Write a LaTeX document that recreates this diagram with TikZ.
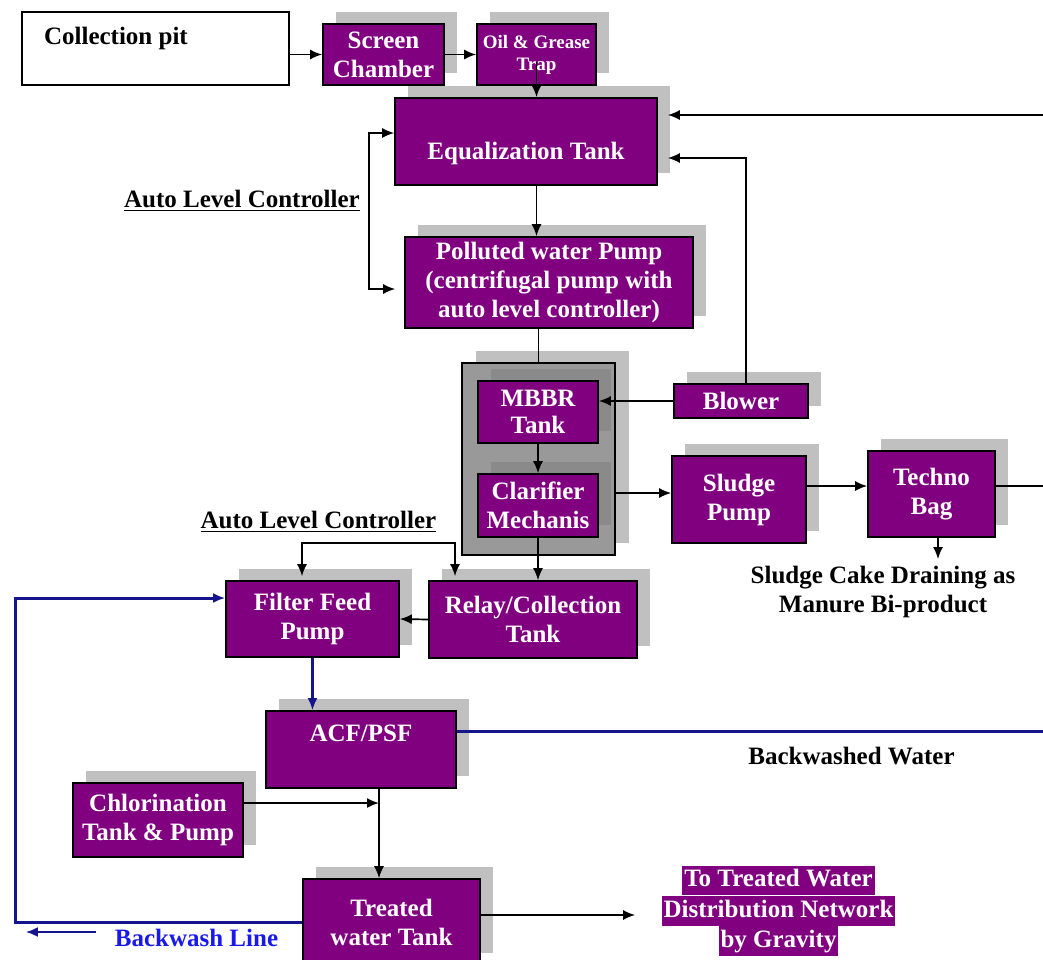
\documentclass[tikz,border=0pt]{standalone}
\usepackage{fontspec}
\setmainfont{Liberation Serif}
\usetikzlibrary{arrows.meta}
\usetikzlibrary{shadows}
\usetikzlibrary{positioning}
\definecolor{plum}{RGB}{128,0,128}
\definecolor{shade}{RGB}{192,192,192}
\definecolor{housing}{RGB}{153,153,153}
\definecolor{innershade}{RGB}{138,138,138}
\definecolor{washblue}{RGB}{20,20,140}
\definecolor{labelblue}{RGB}{25,25,235}

\begin{document}
\begin{tikzpicture}[x=0.5pt, y=-0.5pt, >={Latex[length=6pt,width=5pt]},
		txt/.style={font=\bfseries\fontsize{12.5}{14.5}\selectfont, align=center},
		stage/.style={txt, draw=black, line width=0.8pt, fill=plum, text=white, inner sep=0pt,
			drop shadow={shadow xshift=6.5pt, shadow yshift=6pt, fill=#1, opacity=1}},
		stage/.default=shade,
		wh/.style 2 args={minimum width=#1*0.5pt, minimum height=#2*0.5pt},
		banner/.style={txt, fill=plum, text=white, inner sep=0pt, inner xsep=1pt, text height=10.5pt, text depth=4.25pt},
		flow/.style={line width=0.85pt},
		wash/.style={line width=1.5pt, draw=washblue}]
			\useasboundingbox (0,0) rectangle (1043,959);
			% intake
			\node [draw, line width=0.8pt, wh={267}{73}] (pit) at (155.5,48.5) {};
			\node [txt, anchor=west] (pitname) at (37,38) {Collection pit};
			\node [stage, wh={121}{61}] (screen) at (383.5,54.5) {Screen\\Chamber};
			\node [stage, wh={119}{61}, font=\bfseries\fontsize{9.5}{11}\selectfont] (trap) at (536.5,54.5) {Oil \& Grease\\Trap};
			\node [stage, wh={262}{87}, text height=21pt] (eq) at (526,141.5) {Equalization Tank};
			\node [txt] (alctop) at (242,201) {\underline{Auto Level Controller}};
			\node [stage, wh={288}{91}] (pump) at (549,282.5) {Polluted water Pump\\(centrifugal pump with\\auto level controller)};
			% biological stage
			\node [draw, line width=0.8pt, fill=housing, wh={153}{192},
				drop shadow={shadow xshift=7pt, shadow yshift=6pt, fill=shade, opacity=1}] (reactor) at (538.5,459) {};
			\node [stage=innershade, wh={120}{62}, font=\bfseries\fontsize{12.5}{13.5}\selectfont] (mbbr) at (538,412) {MBBR\\Tank};
			\node [stage=innershade, wh={120}{63}] (clar) at (538,505.5) {Clarifier\\Mechanis};
			\node [stage, wh={134}{34}] (blower) at (741,401) {Blower};
			\node [stage, wh={134}{87}] (sludge) at (739,499.5) {Sludge\\Pump};
			\node [stage, wh={127}{86}] (bag) at (931.5,494) {Techno\\Bag};
			\node [txt] (cake) at (883,592) {Sludge Cake Draining as\\Manure Bi-product};
			% tertiary stage
			\node [txt] (alcmid) at (318.5,522) {\underline{Auto Level Controller}};
			\node [stage, wh={208}{77}] (relay) at (533,619.5) {Relay/Collection\\Tank};
			\node [stage, wh={173}{76}] (ffp) at (312.5,619) {Filter Feed\\Pump};
			\node [stage, wh={190}{77}, text depth=16.3pt] (acf) at (361,749.5) {ACF/PSF};
			\node [txt] (bwwater) at (851.5,756) {Backwashed Water};
			\node [stage, wh={170}{74}] (chlor) at (158,820) {Chlorination\\Tank \& Pump};
			\node [stage, wh={177}{86}] (treated) at (391.5,922) {Treated\\water Tank};
			\node [txt, text=labelblue] (bwlabel) at (196.5,938) {Backwash Line};
			\node [banner] (dist1) at (778.5,880.5) {To Treated Water};
			\node [banner, below=0pt of dist1] (dist2) {Distribution Network};
			\node [banner, below=0pt of dist2] (dist3) {by Gravity};

			\draw [->, flow] (pit.east |- screen.west) -- (screen.west);
			\draw [->, flow] (screen.east) -- (trap.west);
			\draw [->, flow] ([yshift=12pt]trap.south) -- (trap.south |- eq.north);
			\coordinate (feedin) at (1043,115);
			\draw [->, flow] (feedin) -- ([xshift=5pt]eq.east |- feedin);
			\draw [->, flow] ([xshift=2.5pt]blower.north) |- ([xshift=5pt,yshift=-8.25pt]eq.east);
			\draw [->, flow] (eq.south -| trap.south) -- (pump.north -| trap.south);
			\draw [<->, flow] ([yshift=4.25pt]eq.west) -- ++(-25,0) |- ([xshift=-4.5pt,yshift=-3.25pt]pump.west);
			\draw [flow] (pump.south -| reactor.north) -- (reactor.north);
			\draw [->, flow] (blower.west) -- (mbbr.east |- blower.west);
			\draw [->, flow] (mbbr) -- (clar);
			\coordinate (sp) at ([yshift=3.25pt]sludge.west);
			\draw [->, flow] (reactor.east |- sp) -- (sp);
			\coordinate (tb) at ([yshift=4pt]bag.west);
			\draw [->, flow] (sludge.east |- tb) -- (tb);
			\coordinate (cakeout) at (1043,486);
			\draw [flow] (bag.east |- cakeout) -- (cakeout);
			\draw [->, flow] ([xshift=3.25pt]bag.south) -- ([xshift=3.25pt]bag.south |- cake.north);
			\draw [->, flow] (clar.south) -- (clar.south |- relay.north);
			\draw [->, flow] (relay.west) -- (ffp.east);
			\coordinate (alcl) at ([xshift=-5.25pt,yshift=2pt]ffp.north);
			\coordinate (alcr) at ([xshift=-39pt,yshift=2pt]relay.north);
			\draw [<->, flow] (alcl) -- ++(0,-33) -| (alcr);
			\draw [->, wash] (ffp.south) -- (ffp.south |- acf.north);
			\coordinate (washout) at (1043,731);
			\draw [wash] (acf.east |- washout) -- (washout);
			\coordinate (drop) at ([xshift=9pt]acf.south);
			\draw [->, flow] (drop) -- (drop |- treated.north);
			\draw [->, flow] ([yshift=8.5pt]chlor.east) -- ([yshift=8.5pt]chlor.east -| drop);
			\coordinate (tw) at ([yshift=3.5pt]treated.east);
			\coordinate (twend) at ([xshift=-13pt]dist2.west);
			\draw [->, flow] (tw) -- (twend |- tw);
			\coordinate (bwcorner) at (15,922);
			\draw [->, wash] (treated.west) -- (bwcorner) |- ([yshift=10.5pt]ffp.west);
			\draw [->, wash, line width=1.1pt] ([xshift=-6pt,yshift=3pt]bwlabel.west) -- ++(-70,0);
	\end{tikzpicture}
\end{document}
